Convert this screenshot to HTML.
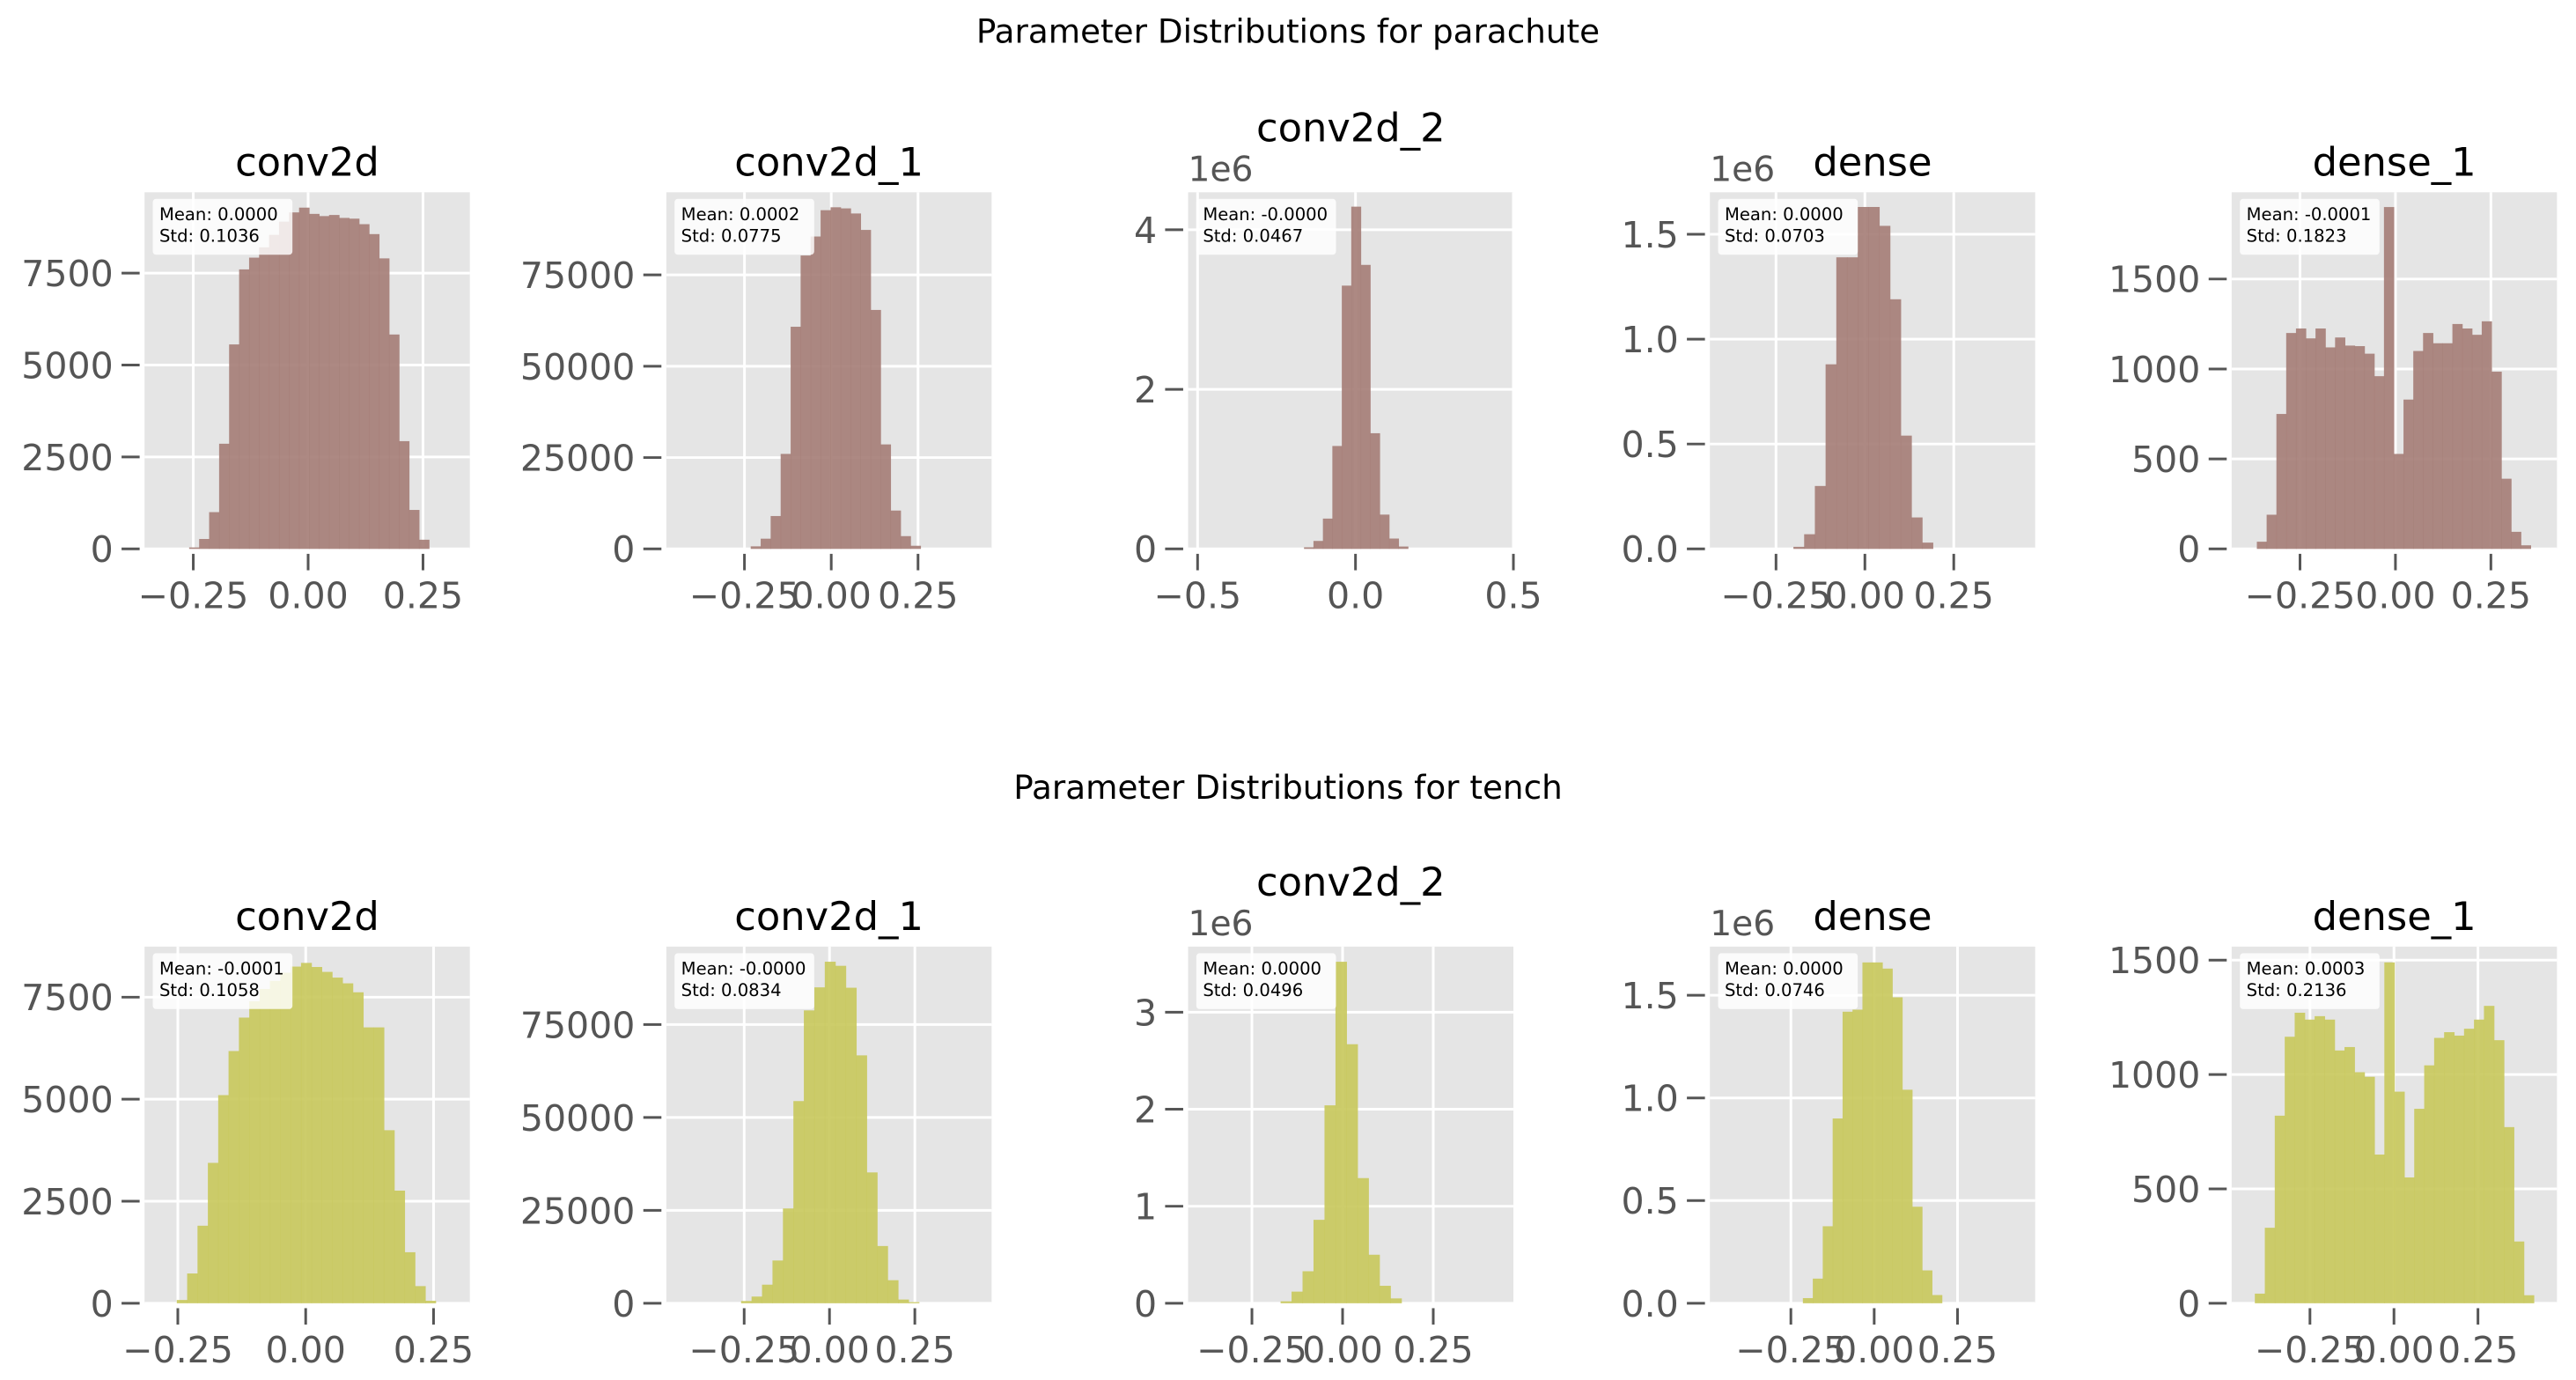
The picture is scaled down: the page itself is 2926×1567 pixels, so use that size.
<!DOCTYPE html>
<html><head><meta charset="utf-8">
<style>
html,body{margin:0;padding:0;background:#fff;}
svg{display:block;font-family:"DejaVu Sans","Liberation Sans",sans-serif;}
</style></head>
<body>
<svg id="chart" width="2926" height="1567" viewBox="0 0 1568 839.7" preserveAspectRatio="none" xmlns="http://www.w3.org/2000/svg">
<text x="784" y="26" text-anchor="middle" font-size="20" fill="#000">Parameter Distributions for parachute</text>
<text x="784" y="486" text-anchor="middle" font-size="20" fill="#000">Parameter Distributions for tench</text>
</svg>
<script>
// ----- data -----
const panelTitles = ["conv2d","conv2d_1","conv2d_2","dense","dense_1"];
const rowNames = ["parachute","tench"];
const statMeans = [["0.0000","0.0002","-0.0000","0.0000","-0.0001"],["-0.0001","-0.0000","0.0000","0.0000","0.0003"]];
const statStds = [["0.1036","0.0775","0.0467","0.0703","0.1823"],["0.1058","0.0834","0.0496","0.0746","0.2136"]];
// bin ranges [lo, hi] per panel
const binRanges = [
 [[-0.259,0.263],[-0.232,0.257],[-0.163,0.166],[-0.201,0.191],[-0.363,0.354]],
 [[-0.252,0.254],[-0.259,0.262],[-0.171,0.162],[-0.214,0.203],[-0.414,0.416]]
];
// counts (panels 3 & 4 in units of 1e6)
const countsParachute = [
 [40,270,1000,2860,5560,7600,7920,8200,8540,8900,9150,9280,9110,9050,9080,9000,8980,8830,8560,7900,5830,2930,1060,250],
 [700,2800,9000,26000,60800,80300,85500,92700,93500,93200,91800,87300,65400,28600,10500,3500,860],
 [0.02,0.10,0.38,1.29,3.30,4.29,3.56,1.45,0.43,0.13,0.03],
 [0.01,0.07,0.30,0.88,1.39,1.39,1.63,1.63,1.54,1.19,0.54,0.15,0.03],
 [40,190,750,1200,1225,1170,1225,1120,1175,1130,1127,1085,960,1900,528,830,1100,1200,1143,1143,1250,1225,1190,1265,985,390,95,20]
];
const countsTench = [
 [80,730,1900,3440,5100,6180,7000,7400,7700,7900,8100,8250,8340,8240,8120,7980,7840,7620,6760,6760,4240,2760,1250,420,60],
 [600,1800,5000,11500,25500,54400,78800,85000,91900,90800,84900,66700,35200,15400,6200,1000,300],
 [0.02,0.12,0.33,0.86,2.04,3.52,2.67,1.29,0.50,0.18,0.05],
 [0.025,0.12,0.375,0.90,1.42,1.43,1.66,1.66,1.63,1.49,1.04,0.47,0.16,0.04],
 [42,330,820,1165,1270,1240,1255,1240,1105,1120,1010,990,650,1490,925,550,850,1040,1160,1185,1170,1200,1240,1300,1150,770,270,35]
];
const xLimits = [
 [[-0.356,0.352],[-0.475,0.462],[-0.53,0.5],[-0.436,0.479],[-0.429,0.423]],
 [[-0.315,0.321],[-0.478,0.475],[-0.426,0.471],[-0.493,0.483],[-0.483,0.485]]
];
const yMaxes = [[9697,97600,4.47,1.70,1982],[8739,95960,3.676,1.737,1559]];
const xTicks = [
 [[-0.25,0,0.25],[-0.25,0,0.25],[-0.5,0,0.5],[-0.25,0,0.25],[-0.25,0,0.25]],
 [[-0.25,0,0.25],[-0.25,0,0.25],[-0.25,0,0.25],[-0.25,0,0.25],[-0.25,0,0.25]]
];
const xTickLabels = [
 [["−0.25","0.00","0.25"],["−0.25","0.00","0.25"],["−0.5","0.0","0.5"],["−0.25","0.00","0.25"],["−0.25","0.00","0.25"]],
 [["−0.25","0.00","0.25"],["−0.25","0.00","0.25"],["−0.25","0.00","0.25"],["−0.25","0.00","0.25"],["−0.25","0.00","0.25"]]
];
const yTicks = [
 [[0,2500,5000,7500],[0,25000,50000,75000],[0,2,4],[0,0.5,1.0,1.5],[0,500,1000,1500]],
 [[0,2500,5000,7500],[0,25000,50000,75000],[0,1,2,3],[0,0.5,1.0,1.5],[0,500,1000,1500]]
];
const yTickLabels = [
 [["0","2500","5000","7500"],["0","25000","50000","75000"],["0","2","4"],["0.0","0.5","1.0","1.5"],["0","500","1000","1500"]],
 [["0","2500","5000","7500"],["0","25000","50000","75000"],["0","1","2","3"],["0.0","0.5","1.0","1.5"],["0","500","1000","1500"]]
];
const allCounts = [countsParachute, countsTench];

// ----- layout -----
const NS = "http://www.w3.org/2000/svg";
const svg = document.getElementById('chart');
const axLeft0 = 88, axStep = 317.6, axW = 198, axH = 217;
const axTops = [117, 576];
const barColors = ["#a67f78", "#c9c95e"];
function mk(tag, attrs, parent){
  const e = document.createElementNS(NS, tag);
  for (const k in attrs) e.setAttribute(k, attrs[k]);
  (parent||svg).appendChild(e);
  return e;
}
for (let r=0;r<2;r++){
  for (let p=0;p<5;p++){
    const L = axLeft0 + axStep*p, T = axTops[r], B = T+axH, R = L+axW;
    const [x0,x1] = xLimits[r][p], yMax = yMaxes[r][p];
    const sx = v => L + (v-x0)/(x1-x0)*axW;
    const sy = v => B - v/yMax*axH;
    const g = mk('g', {});
    
    
    const bg = mk('rect', {x:L,y:T,width:axW,height:axH,fill:'#e5e5e5'}, g);
    
    
    xTicks[r][p].forEach(v=>{
      const ln = mk('line',{x1:sx(v),x2:sx(v),y1:T,y2:B,stroke:'#fff','stroke-width':1.6},g);
      
      
    });
    yTicks[r][p].forEach(v=>{
      const ln = mk('line',{x1:L,x2:R,y1:sy(v),y2:sy(v),stroke:'#fff','stroke-width':1.6},g);
      
      
    });
    const counts = allCounts[r][p];
    const [lo,hi] = binRanges[r][p];
    const bw = (hi-lo)/counts.length;
    counts.forEach((c,i)=>{
      const xa = sx(lo+i*bw), xb = sx(lo+(i+1)*bw);
      const rc = mk('rect',{x:xa,y:sy(c),width:xb-xa+0.3,height:B-sy(c),fill:barColors[r],'fill-opacity':0.92},g);
      
      
    });
    xTicks[r][p].forEach((v,i)=>{
      const tk = mk('line',{x1:sx(v),x2:sx(v),y1:B+3,y2:B+13,stroke:'#555','stroke-width':1.6},g);
      
      
      const t = mk('text',{x:sx(v),y:B+36,'text-anchor':'middle','font-size':22,fill:'#555'},g);
      t.textContent = xTickLabels[r][p][i];
      
      
    });
    yTicks[r][p].forEach((v,i)=>{
      const tk = mk('line',{x1:L-14,x2:L-3,y1:sy(v),y2:sy(v),stroke:'#555','stroke-width':1.6},g);
      
      
      const t = mk('text',{x:L-19,y:sy(v)+8,'text-anchor':'end','font-size':22,fill:'#555'},g);
      t.textContent = yTickLabels[r][p][i];
      
      
    });
    const raised = (p===2);
    const tt = mk('text',{x:L+axW/2,y:raised?T-31:T-10,'text-anchor':'middle','font-size':24,fill:'#000'},g);
    tt.textContent = panelTitles[p];
    
    
    if (p===2 || p===3){
      const off = mk('text',{x:L,y:T-7,'font-size':21,fill:'#555'},g);
      off.textContent = '1e6';
      
      
    }
    const sb = mk('rect',{x:L+5,y:T+4,width:85,height:34,fill:'#ffffff','fill-opacity':0.82,rx:2},g);
    
    
    const m = mk('text',{x:L+9,y:T+17,'font-size':10.5,fill:'#000'},g);
    m.textContent = 'Mean: '+statMeans[r][p];
    
    
    const s = mk('text',{x:L+9,y:T+30,'font-size':10.5,fill:'#000'},g);
    s.textContent = 'Std: '+statStds[r][p];
    
    
  }
}
</script>
</body></html>
